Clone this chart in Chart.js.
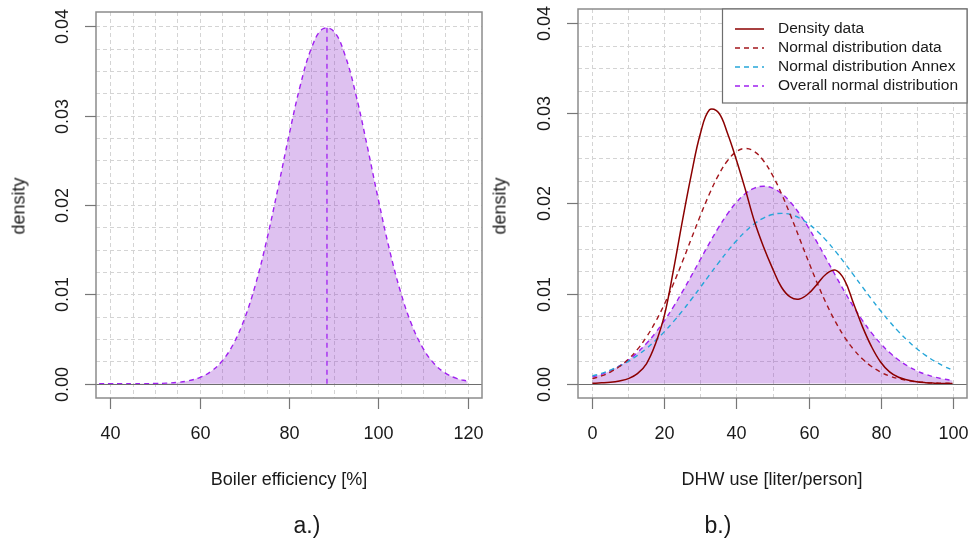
<!DOCTYPE html>
<html>
<head>
<meta charset="utf-8">
<script src="https://cdn.jsdelivr.net/npm/chart.js@4.4.1/dist/chart.umd.min.js"></script>
<style>
  body { margin: 0; background: #fff; width: 968px; height: 538px; position: relative; overflow: hidden;
         font-family: "Liberation Sans", Arial, sans-serif; color: #1a1a1a; }
  .pane { position: absolute; top: 0; height: 538px; }
  .lbl { position: absolute; font-size: 18px; white-space: nowrap; transform: translate(-50%, -50%); }
  .rot { transform: translate(-50%, -50%) rotate(-90deg); }
  .cap { font-size: 23px; }
</style>
</head>
<body>
<div class="pane" style="left:0;width:484px"><canvas id="chartA"></canvas></div>
<div class="pane" style="left:484px;width:484px"><canvas id="chartB"></canvas></div>

<div class="lbl rot" style="left:19px;top:206px">density</div>
<div class="lbl rot" style="left:500px;top:206px">density</div>
<div class="lbl" style="left:289px;top:479px">Boiler efficiency [%]</div>
<div class="lbl" style="left:772px;top:479px">DHW use [liter/person]</div>
<div class="lbl cap" style="left:307px;top:525px">a.)</div>
<div class="lbl cap" style="left:718px;top:525px">b.)</div>

<script>
// ---- data a.) boiler efficiency
const effX = [37.5, 40, 42.5, 45, 47.5, 50, 52.5, 55, 57.5, 60, 62.5, 65, 67.5, 70, 72.5, 75, 77.5, 80,
  82.5, 85, 87.5, 90, 92.5, 95, 97.5, 100, 102.5, 105, 107.5, 110, 112.5, 115, 117.5, 120]
const effDensity = [0.0000001, 0.0000003, 0.000001, 0.000003, 0.000009, 0.000024, 0.000061, 0.000146,
  0.000327, 0.000687, 0.001358, 0.002522, 0.0044, 0.00721, 0.01109, 0.01604, 0.02179, 0.0278, 0.03332,
  0.03752, 0.03969, 0.03945, 0.03683, 0.0323, 0.02661, 0.0206, 0.01497, 0.01023, 0.00656, 0.00396,
  0.00224, 0.00119, 0.000595, 0.000279]
const effMean = 88.5
const effPeak = 0.0399
const effTicks = [40, 60, 80, 100, 120]

// ---- data b.) DHW use
const dhwX = [0, 2.5, 5, 7.5, 10, 12.5, 15, 17.5, 20, 22.5, 25, 27.5, 30, 32.5, 35, 37.5, 40, 42.5, 45,
  47.5, 50, 52.5, 55, 57.5, 60, 62.5, 65, 67.5, 70, 72.5, 75, 77.5, 80, 82.5, 85, 87.5, 90, 92.5, 95, 97.5, 100]
const densityData = [0.00003, 0.00008, 0.00015, 0.0003, 0.00055, 0.0011, 0.0022, 0.0044, 0.0076, 0.0126,
  0.0181, 0.0233, 0.0278, 0.0304, 0.0301, 0.0278, 0.0248, 0.0215, 0.018, 0.0152, 0.0128, 0.0107, 0.0096,
  0.0094, 0.01, 0.0111, 0.0122, 0.0126, 0.0115, 0.0089, 0.0063, 0.0041, 0.0024, 0.0013, 0.0007, 0.0004,
  0.0002, 0.0001, 0.00005, 0.00002, 0.00001]
const normalData = [0.000546, 0.000849, 0.001285, 0.001894, 0.002719, 0.003799, 0.00517, 0.006847,
  0.00883, 0.011086, 0.01355, 0.016126, 0.018685, 0.021075, 0.023146, 0.024748, 0.025762, 0.026109,
  0.025762, 0.024748, 0.023146, 0.021075, 0.018685, 0.016126, 0.01355, 0.011086, 0.00883, 0.006847,
  0.00517, 0.003799, 0.002719, 0.001894, 0.001285, 0.000849, 0.000546, 0.000342, 0.000208, 0.000123,
  0.000071, 0.00004, 0.000022]
const normalAnnex = [0.000856, 0.001141, 0.0015, 0.001945, 0.002487, 0.003135, 0.003897, 0.004777,
  0.005773, 0.006881, 0.008087, 0.009371, 0.010707, 0.012065, 0.013404, 0.014685, 0.015864, 0.016898,
  0.01775, 0.018383, 0.018775, 0.018907, 0.018775, 0.018383, 0.01775, 0.016898, 0.015864, 0.014685,
  0.013404, 0.012065, 0.010707, 0.009371, 0.008087, 0.006881, 0.005773, 0.004777, 0.003897, 0.003135,
  0.002487, 0.001945, 0.0015]
const normalOverall = [0.000727, 0.001031, 0.001435, 0.001959, 0.002624, 0.00345, 0.00445, 0.005635,
  0.007, 0.008533, 0.010208, 0.011985, 0.013806, 0.015608, 0.017314, 0.018849, 0.020136, 0.021108,
  0.021714, 0.02192, 0.021714, 0.021108, 0.020136, 0.018849, 0.017314, 0.015608, 0.013806, 0.011985,
  0.010208, 0.008533, 0.007, 0.005635, 0.00445, 0.00345, 0.002624, 0.001959, 0.001435, 0.001031,
  0.000727, 0.000503, 0.000342]
const dhwTicks = [0, 20, 40, 60, 80, 100]
const seriesLabels = ['Density data', 'Normal distribution data', 'Normal distribution Annex', 'Overall normal distribution']

const densTicks = [0, 0.01, 0.02, 0.03, 0.04]
const densTickLabels = ['0.00', '0.01', '0.02', '0.03', '0.04']

// ---- styles
const FONT = '"Liberation Sans", Arial, sans-serif'
const PURPLE = '#a020f0'
const FILL = 'rgba(150, 55, 205, 0.31)'
const DARKRED = '#8b0000'
const RED_DASH = '#a3161c'
const BLUE = '#26a6d9'
const DASH = [5, 4]

const pts = (xs, ys) => xs.map((x, i) => ({x, y: ys[i]}))

function steps(from, to, step) {
  const out = []
  for (let v = from; v <= to + 1e-9; v += step) out.push(v)
  return out
}

function rAxes(o) {
  return {
    id: 'rAxes',
    beforeDatasetsDraw(chart) {
      const {ctx, chartArea: a, scales: {x, y}} = chart
      ctx.save()
      ctx.strokeStyle = '#d4d4d4'
      ctx.lineWidth = 1
      ctx.setLineDash([4, 3])
      ctx.beginPath()
      o.gridX.forEach(v => {
        const p = Math.round(x.getPixelForValue(v)) + 0.5
        ctx.moveTo(p, a.top); ctx.lineTo(p, a.bottom)
      })
      o.gridY.forEach(v => {
        const p = Math.round(y.getPixelForValue(v)) + 0.5
        ctx.moveTo(a.left, p); ctx.lineTo(a.right, p)
      })
      ctx.stroke()
      ctx.restore()
    },
    afterDatasetsDraw(chart) {
      const {ctx, chartArea: a, scales: {x, y}} = chart
      ctx.save()
      // zero line
      const y0 = Math.round(y.getPixelForValue(0)) + 0.5
      ctx.strokeStyle = '#6e6e6e'
      ctx.lineWidth = 1.2
      ctx.beginPath(); ctx.moveTo(a.left, y0); ctx.lineTo(a.right, y0); ctx.stroke()
      // box
      ctx.strokeStyle = '#8c8c8c'
      ctx.lineWidth = 1.5
      ctx.strokeRect(a.left, a.top, a.right - a.left, a.bottom - a.top)
      // ticks
      ctx.strokeStyle = '#777'
      ctx.lineWidth = 1.2
      ctx.fillStyle = '#1a1a1a'
      ctx.font = '18px ' + FONT
      ctx.textAlign = 'center'
      ctx.textBaseline = 'middle'
      o.xTicks.forEach(v => {
        const p = Math.round(x.getPixelForValue(v)) + 0.5
        ctx.beginPath(); ctx.moveTo(p, a.bottom); ctx.lineTo(p, a.bottom + 11); ctx.stroke()
        ctx.fillText(String(v), p, 434)
      })
      o.yTicks.forEach((v, i) => {
        const p = Math.round(y.getPixelForValue(v)) + 0.5
        ctx.beginPath(); ctx.moveTo(a.left - 11, p); ctx.lineTo(a.left, p); ctx.stroke()
        ctx.save()
        ctx.translate(a.left - 33, p)
        ctx.rotate(-Math.PI / 2)
        ctx.fillText(o.yLabels[i], 0, 0)
        ctx.restore()
      })
      ctx.restore()
    }
  }
}

const rLegend = {
  id: 'rLegend',
  afterDraw(chart) {
    const {ctx, chartArea: a} = chart
    const left = 238, bottom = 103
    ctx.save()
    ctx.fillStyle = '#fff'
    ctx.fillRect(left, a.top, a.right - left, bottom - a.top)
    ctx.strokeStyle = '#6e6e6e'
    ctx.lineWidth = 1.2
    ctx.strokeRect(left + 0.5, a.top, a.right - left - 0.5, bottom - a.top)
    const items = [
      {color: DARKRED, dash: []},
      {color: RED_DASH, dash: DASH},
      {color: BLUE, dash: DASH},
      {color: PURPLE, dash: DASH}
    ]
    ctx.font = '15.5px ' + FONT
    ctx.textBaseline = 'middle'
    ctx.textAlign = 'left'
    seriesLabels.forEach((t, i) => {
      const yy = 29 + i * 19
      ctx.strokeStyle = items[i].color
      ctx.lineWidth = 1.5
      ctx.setLineDash(items[i].dash)
      ctx.beginPath(); ctx.moveTo(251, yy); ctx.lineTo(280, yy); ctx.stroke()
      ctx.setLineDash([])
      ctx.fillStyle = '#1a1a1a'
      ctx.fillText(t, 294, yy)
    })
    ctx.restore()
  }
}

function scales(xMin, xMax, yAxisWidth) {
  return {
    x: {
      type: 'linear', min: xMin, max: xMax,
      grid: {display: false}, border: {display: false}, ticks: {display: false},
      afterFit: s => { s.height = 140 }
    },
    y: {
      type: 'linear', min: -0.0016, max: 0.0416,
      grid: {display: false}, border: {display: false}, ticks: {display: false},
      afterFit: s => { s.width = yAxisWidth }
    }
  }
}

const common = {
  responsive: true,
  maintainAspectRatio: false,
  animation: false,
  plugins: {legend: {display: false}, tooltip: {enabled: false}},
  elements: {point: {radius: 0}, line: {tension: 0.4}}
}

new Chart(document.getElementById('chartA'), {
  type: 'line',
  data: {
    datasets: [
      {
        label: 'mean',
        data: [{x: effMean, y: 0}, {x: effMean, y: effPeak}],
        borderColor: PURPLE, borderWidth: 1.3, borderDash: DASH, fill: false, tension: 0
      },
      {
        label: 'Boiler efficiency',
        data: pts(effX, effDensity),
        borderColor: PURPLE, borderWidth: 1.4, borderDash: DASH,
        backgroundColor: FILL, fill: 'origin'
      }
    ]
  },
  options: {
    ...common,
    layout: {padding: {top: 12, right: 2, left: 0, bottom: 0}},
    scales: scales(36.8, 123.2, 96)
  },
  plugins: [rAxes({
    gridX: steps(40, 120, 5), gridY: steps(0, 0.04, 0.0025),
    xTicks: effTicks, yTicks: densTicks, yLabels: densTickLabels
  })]
})

new Chart(document.getElementById('chartB'), {
  type: 'line',
  data: {
    datasets: [
      {
        label: seriesLabels[0], data: pts(dhwX, densityData),
        borderColor: DARKRED, borderWidth: 1.5, fill: false
      },
      {
        label: seriesLabels[1], data: pts(dhwX, normalData),
        borderColor: RED_DASH, borderWidth: 1.4, borderDash: DASH, fill: false
      },
      {
        label: seriesLabels[2], data: pts(dhwX, normalAnnex),
        borderColor: BLUE, borderWidth: 1.4, borderDash: DASH, fill: false
      },
      {
        label: seriesLabels[3], data: pts(dhwX, normalOverall),
        borderColor: PURPLE, borderWidth: 1.4, borderDash: DASH,
        backgroundColor: FILL, fill: 'origin'
      }
    ]
  },
  options: {
    ...common,
    layout: {padding: {top: 9, right: 1, left: 0, bottom: 0}},
    scales: scales(-4, 104, 94)
  },
  plugins: [rAxes({
    gridX: steps(0, 100, 10), gridY: steps(0, 0.04, 0.0025),
    xTicks: dhwTicks, yTicks: densTicks, yLabels: densTickLabels
  }), rLegend]
})
</script>
</body>
</html>
